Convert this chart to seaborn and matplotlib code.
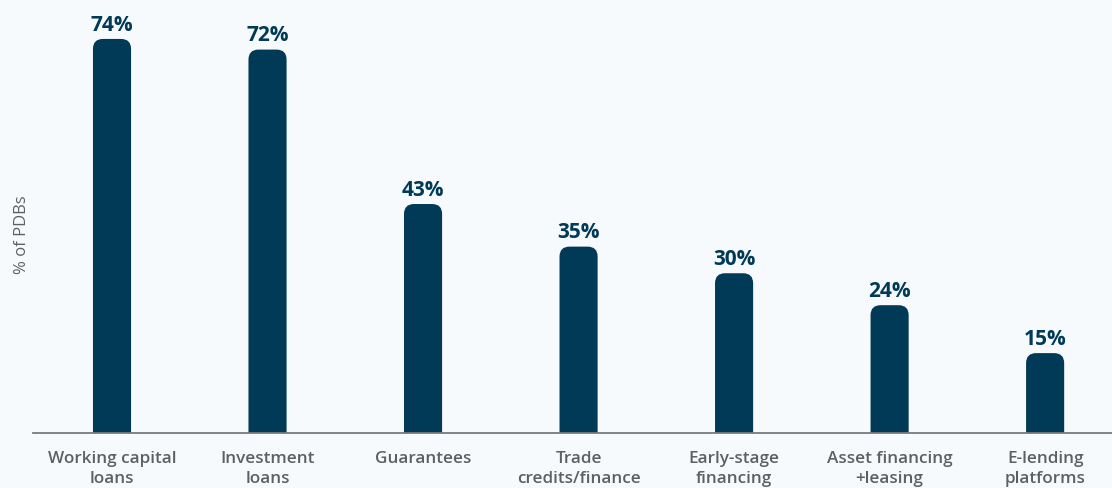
import matplotlib
matplotlib.use("Agg")
import matplotlib.pyplot as plt
from matplotlib.patches import FancyBboxPatch
import seaborn as sns
import pandas as pd

categories = [
    "Working capital\nloans",
    "Investment\nloans",
    "Guarantees",
    "Trade\ncredits/finance",
    "Early-stage\nfinancing",
    "Asset financing\n+leasing",
    "E-lending\nplatforms",
]
shares = [74, 72, 43, 35, 30, 24, 15]

navy = "#003a56"
grey_text = "#5f5f5f"
bg = "#f6fafd"

sns.set_theme(style="white")
plt.rcParams["font.family"] = ["Open Sans", "DejaVu Sans"]

df = pd.DataFrame({"instrument": categories, "share": shares})

fig = plt.figure(figsize=(11.12, 4.89), dpi=100, facecolor=bg)
ax = fig.add_axes([33 / 1112, 55 / 489, 1079 / 1112, 434 / 489])
ax.set_facecolor(bg)

sns.barplot(data=df, x="instrument", y="share", color=navy, width=0.245,
            saturation=1, ax=ax)

ax.set_xlim(-0.508, 6.43)
ax.set_ylim(0, 81.5)

# pixels per data unit, used to keep the rounded corners circular
fig.canvas.draw()
p0 = ax.transData.transform((0, 0))
p1 = ax.transData.transform((1, 1))
px_x = p1[0] - p0[0]
px_y = p1[1] - p0[1]
radius_px = 10
rx = radius_px / px_x
aspect = (radius_px / px_y) / rx

# swap the plain rectangles for bars with rounded tops
for bar in list(ax.patches):
    x0, w, h = bar.get_x(), bar.get_width(), bar.get_height()
    bar.remove()
    extra = radius_px / px_y
    rounded = FancyBboxPatch(
        (x0, -extra), w, h + extra,
        boxstyle=f"round,pad=0,rounding_size={rx}",
        mutation_aspect=aspect,
        facecolor=navy, edgecolor="none", clip_on=True,
    )
    ax.add_patch(rounded)
    ax.annotate(f"{h:.0f}%", (x0 + w / 2, h), xytext=(0, 3),
                textcoords="offset points", ha="center", va="bottom",
                fontsize=15, fontweight="bold", color=navy)

sns.despine(ax=ax, left=True, top=True, right=True)
ax.spines["bottom"].set_color("#7a7a7a")
ax.spines["bottom"].set_linewidth(1.3)
ax.spines["bottom"].set_zorder(5)

ax.set_yticks([])
ax.set_xlabel("")
ax.set_ylabel("% of PDBs", color=grey_text, fontsize=12)
ax.yaxis.set_label_coords(-0.0028, 0.4585)
ax.tick_params(axis="x", length=0, pad=12)
for lbl in ax.get_xticklabels():
    lbl.set_fontsize(12.3)
    lbl.set_fontweight("semibold")
    lbl.set_color(grey_text)
    lbl.set_linespacing(1.4)

fig.savefig("out.png", dpi=100, facecolor=bg)
